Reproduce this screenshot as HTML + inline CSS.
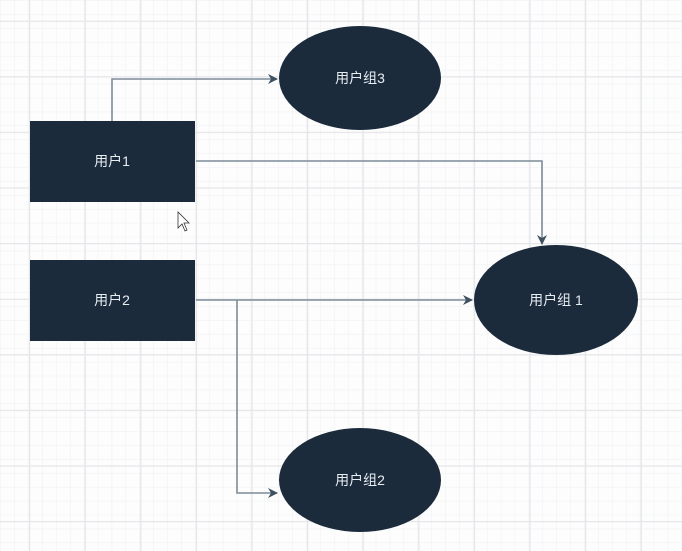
<!DOCTYPE html><html><head><meta charset="utf-8"><style>
html,body{margin:0;padding:0;background:#fff}
</style></head><body>
<svg width="682" height="551" xmlns="http://www.w3.org/2000/svg" style="display:block">
<defs>
<pattern id="g" width="13.9" height="13.9" patternUnits="userSpaceOnUse" x="1" y="1">
<path d="M13.9 0V13.9H0" fill="none" stroke="#f0f1f3" stroke-width="1.2"/>
</pattern>
<pattern id="G" width="55.6" height="55.6" patternUnits="userSpaceOnUse" x="29" y="-35">
<path d="M0.5 0V55.6M0 0.5H55.6" fill="none" stroke="#e5e6e9" stroke-width="1.5"/>
</pattern>
<marker id="a" markerWidth="10" markerHeight="10" refX="9" refY="5" orient="auto" markerUnits="userSpaceOnUse">
<path d="M0,0 L10,5 L0,10 L3,5 Z" fill="#3f5060"/>
</marker>
</defs>
<rect width="682" height="551" fill="#fdfdfd"/>
<rect width="682" height="551" fill="url(#g)"/>
<rect width="682" height="551" fill="url(#G)"/>
<g fill="none" stroke="#7d8b98" stroke-width="1.6">
<path d="M112 121V79H277" marker-end="url(#a)"/>
<path d="M196 161H542V244" marker-end="url(#a)"/>
<path d="M196 300H472" marker-end="url(#a)"/>
<path d="M237 300V493H277" marker-end="url(#a)"/>
</g>
<g fill="#1b2b3c">
<rect x="30" y="121" width="165" height="81"/>
<rect x="30" y="260" width="165" height="81"/>
<ellipse cx="360" cy="78" rx="81" ry="52"/>
<ellipse cx="556" cy="300" rx="82" ry="55"/>
<ellipse cx="360" cy="480" rx="81" ry="52"/>
</g>
<g fill="#e8edf2" font-family="Liberation Sans, Noto Sans CJK SC, sans-serif" font-size="14" text-anchor="middle">
<text x="112" y="166">用户1</text>
<text x="112" y="305">用户2</text>
<text x="360" y="83">用户组3</text>
<text x="556" y="305">用户组 1</text>
<text x="360" y="485">用户组2</text>
</g>
<path d="M178 212V228L182 224L185 231L187 230L184 223H189Z" fill="#fff" stroke="#333" stroke-width="0.8"/>
</svg>
</body></html>
